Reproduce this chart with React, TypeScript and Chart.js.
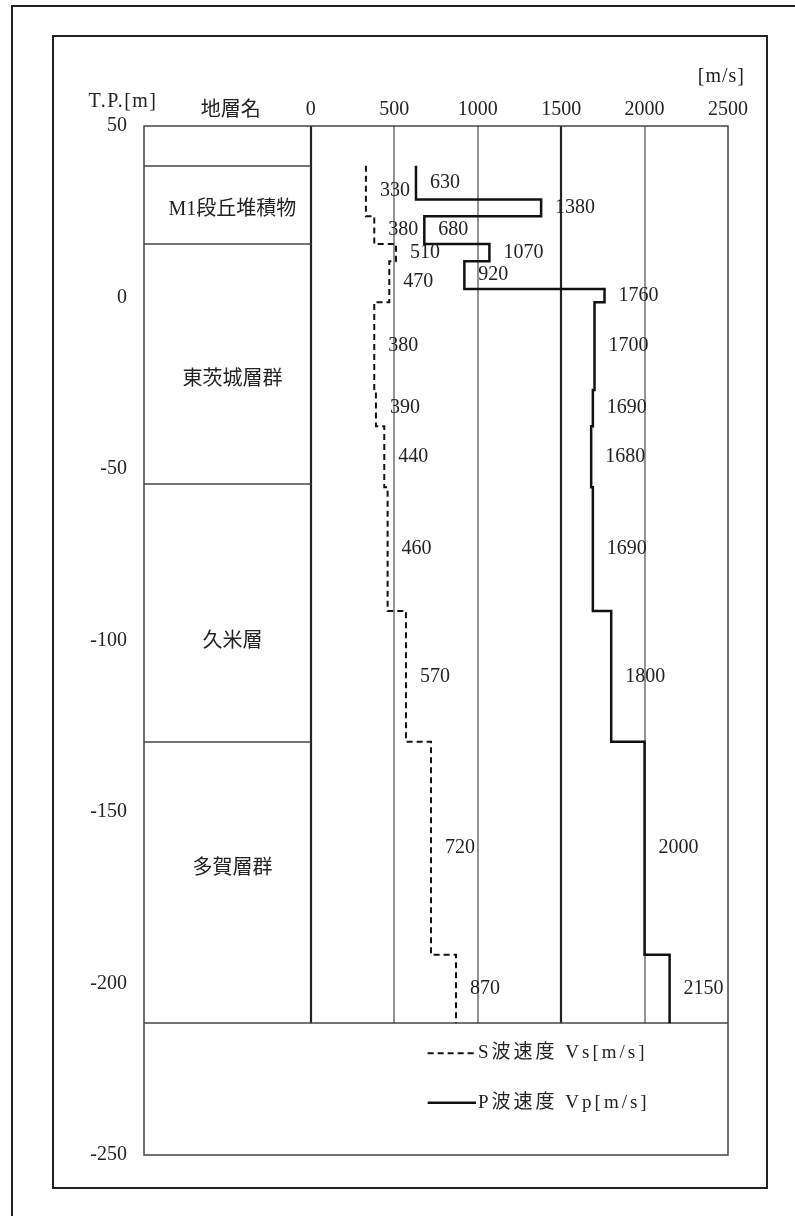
import React, { useEffect, useRef } from "react";
import { Chart, registerables } from "chart.js";

Chart.register(...registerables);

// ---- data ----
const vsValues = [330, 380, 510, 470, 380, 390, 440, 460, 570, 720, 870];
const vsDepths = [38.4, 23.7, 15.6, 10.6, -1.4, -27, -37.5, -55.3, -91.4, -129.5, -191.6, -211.6];
const vpValues = [630, 1380, 680, 1070, 920, 1760, 1700, 1690, 1680, 1690, 1800, 2000, 2150];
const vpDepths = [38.4, 28.6, 23.7, 15.6, 10.6, 2.5, -1.4, -27, -37.5, -55.3, -91.4, -129.5, -191.6, -211.6];
const layerNames = ["M1段丘堆積物", "東茨城層群", "久米層", "多賀層群"];
const layerBoundaries = [38.4, 15.6, -54.5, -129.5, -211.6];
const layerLabelDepths = [25.5, -24, -100.5, -166.5];
const xTickValues = [0, 500, 1000, 1500, 2000, 2500];
const yTickValues = [50, 0, -50, -100, -150, -200, -250];
const gridValues = [0, 500, 1000, 1500, 2000];
const strongGridValues = [0, 1500];
const legendLabels = ["S波速度 Vs[m/s]", "P波速度 Vp[m/s]"];

const FONT = "'Liberation Serif', 'Noto Sans CJK JP', serif";
const TEXT = "#222";

function profile(values: number[], depths: number[]) {
  const pts: { x: number; y: number }[] = [];
  values.forEach((v, i) => {
    pts.push({ x: v, y: depths[i] });
    pts.push({ x: v, y: depths[i + 1] });
  });
  return pts;
}

const decorPlugin = {
  id: "decor",
  beforeDatasetsDraw(chart: any) {
    const { ctx, chartArea: a, scales } = chart;
    const xs = scales.x;
    const ys = scales.y;
    const bottomData = layerBoundaries[layerBoundaries.length - 1];
    ctx.save();
    // vertical grid
    gridValues.forEach((v) => {
      const strong = strongGridValues.includes(v);
      ctx.strokeStyle = strong ? "#222" : "#666";
      ctx.lineWidth = strong ? 2.2 : 1.4;
      const x = Math.round(xs.getPixelForValue(v));
      ctx.beginPath();
      ctx.moveTo(x, a.top);
      ctx.lineTo(x, ys.getPixelForValue(bottomData));
      ctx.stroke();
    });
    // layer lines
    ctx.strokeStyle = "#444";
    ctx.lineWidth = 1.5;
    layerBoundaries.forEach((d, i) => {
      const y = Math.round(ys.getPixelForValue(d));
      const last = i === layerBoundaries.length - 1;
      ctx.beginPath();
      ctx.moveTo(a.left, y);
      ctx.lineTo(last ? a.right : xs.getPixelForValue(0), y);
      ctx.stroke();
    });
    // plot border
    ctx.strokeStyle = "#444";
    ctx.lineWidth = 1.5;
    ctx.strokeRect(a.left, a.top, a.right - a.left, a.bottom - a.top);
    ctx.restore();
  },
  afterDatasetsDraw(chart: any) {
    const { ctx, chartArea: a, scales } = chart;
    const xs = scales.x;
    const ys = scales.y;
    ctx.save();
    ctx.fillStyle = TEXT;
    ctx.font = `20px ${FONT}`;
    ctx.textBaseline = "middle";
    // value labels
    const drawLabels = (values: number[], depths: number[]) => {
      ctx.textAlign = "left";
      values.forEach((v, i) => {
        const x = xs.getPixelForValue(v) + 14;
        const y = ys.getPixelForValue((depths[i] + depths[i + 1]) / 2);
        ctx.fillText(String(v), x, y);
      });
    };
    drawLabels(vsValues, vsDepths);
    drawLabels(vpValues, vpDepths);
    // layer names
    ctx.textAlign = "center";
    layerNames.forEach((n, i) => {
      ctx.fillText(n, xs.getPixelForValue(-470), ys.getPixelForValue(layerLabelDepths[i]));
    });
    // headers
    ctx.fillText("地層名", xs.getPixelForValue(-480), a.top - 15);
    (ctx as any).letterSpacing = "1.5px";
    ctx.fillText("T.P.[m]", a.left - 21, a.top - 24);
    (ctx as any).letterSpacing = "1px";
    ctx.textAlign = "right";
    ctx.fillText("[m/s]", a.right + 17, a.top - 49);
    // legend
    const lx0 = xs.getPixelForValue(700);
    const lx1 = xs.getPixelForValue(990);
    const ly = [ys.getPixelForValue(-220.3), ys.getPixelForValue(-234.8)];
    ctx.strokeStyle = "#111";
    ctx.lineWidth = 2;
    ctx.setLineDash([6, 4]);
    ctx.beginPath();
    ctx.moveTo(lx0, ly[0]);
    ctx.lineTo(lx1, ly[0]);
    ctx.stroke();
    ctx.setLineDash([]);
    ctx.lineWidth = 2.5;
    ctx.beginPath();
    ctx.moveTo(lx0, ly[1]);
    ctx.lineTo(lx1, ly[1]);
    ctx.stroke();
    ctx.textAlign = "left";
    ctx.font = `19px ${FONT}`;
    (ctx as any).letterSpacing = "3px";
    ctx.fillText(legendLabels[0], lx1 + 2, ly[0]);
    ctx.fillText(legendLabels[1], lx1 + 2, ly[1]);
    ctx.restore();
  },
};

export default function App() {
  const ref = useRef<HTMLCanvasElement | null>(null);
  useEffect(() => {
    if (!ref.current) return;
    const chart = new Chart(ref.current, {
      type: "scatter",
      data: {
        datasets: [
          {
            label: legendLabels[0],
            data: profile(vsValues, vsDepths),
            showLine: true,
            borderColor: "#111",
            borderWidth: 2,
            borderDash: [6, 4],
            pointRadius: 0,
            fill: false,
          },
          {
            label: legendLabels[1],
            data: profile(vpValues, vpDepths),
            showLine: true,
            borderColor: "#111",
            borderWidth: 2.5,
            pointRadius: 0,
            fill: false,
          },
        ],
      },
      options: {
        responsive: false,
        animation: false,
        devicePixelRatio: 1,
        layout: { padding: { left: 0, top: 0, right: 67, bottom: 61 } },
        plugins: { legend: { display: false }, tooltip: { enabled: false } },
        scales: {
          x: {
            type: "linear",
            position: "top",
            min: -1000,
            max: 2500,
            afterBuildTicks: (s: any) => {
              s.ticks = xTickValues.map((v) => ({ value: v }));
            },
            afterFit: (s: any) => {
              s.height = 126;
            },
            grid: { display: false, drawTicks: false },
            border: { display: false },
            ticks: {
              font: { family: FONT, size: 20 },
              color: TEXT,
              padding: 4,
              maxRotation: 0,
              autoSkip: false,
              callback: (v: any) => String(v),
            },
          },
          y: {
            type: "linear",
            min: -250,
            max: 50,
            afterBuildTicks: (s: any) => {
              s.ticks = yTickValues.map((v) => ({ value: v }));
            },
            afterFit: (s: any) => {
              s.width = 144;
            },
            grid: { display: false, drawTicks: false },
            border: { display: false },
            ticks: {
              font: { family: FONT, size: 20 },
              color: TEXT,
              padding: 17,
              autoSkip: false,
              callback: (v: any) => String(v),
            },
          },
        },
      },
      plugins: [decorPlugin],
    });
    return () => chart.destroy();
  }, []);

  return (
    <div
      style={{
        position: "absolute",
        left: 0,
        top: 0,
        width: 795,
        height: 1216,
        background: "#fff",
        overflow: "hidden",
      }}
    >
      <div
        style={{
          position: "absolute",
          left: 11,
          top: 5,
          width: 900,
          height: 1400,
          border: "2px solid #222",
          boxSizing: "border-box",
        }}
      />
      <div
        style={{
          position: "absolute",
          left: 52,
          top: 35,
          width: 716,
          height: 1154,
          border: "2px solid #222",
          boxSizing: "border-box",
        }}
      />
      <canvas ref={ref} width={795} height={1216} style={{ position: "absolute", left: 0, top: 0, display: "block" }} />
    </div>
  );
}
